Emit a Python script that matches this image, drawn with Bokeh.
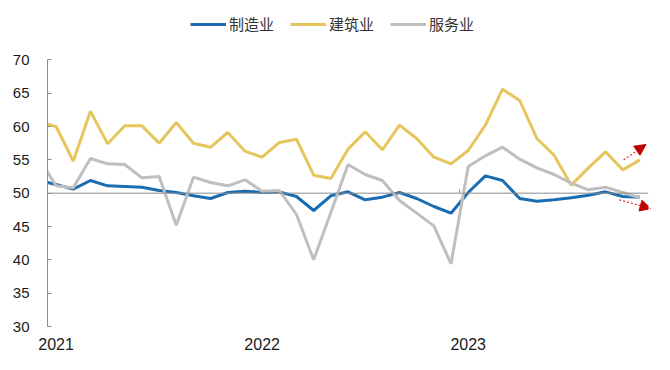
from bokeh.plotting import figure
from bokeh.models import Span, Legend, LegendItem, Arrow, NormalHead, FixedTicker, ColumnDataSource
from bokeh.embed import file_html
from bokeh.resources import INLINE

# ---------------- data ----------------
months = ["2020-12",
          "2021-01", "2021-02", "2021-03", "2021-04", "2021-05", "2021-06",
          "2021-07", "2021-08", "2021-09", "2021-10", "2021-11", "2021-12",
          "2022-01", "2022-02", "2022-03", "2022-04", "2022-05", "2022-06",
          "2022-07", "2022-08", "2022-09", "2022-10", "2022-11", "2022-12",
          "2023-01", "2023-02", "2023-03", "2023-04", "2023-05", "2023-06",
          "2023-07", "2023-08", "2023-09", "2023-10", "2023-11"]

manufacturing = [51.9,
                 51.3, 50.6, 51.9, 51.1, 51.0, 50.9, 50.4, 50.1, 49.6, 49.2, 50.1, 50.3,
                 50.1, 50.2, 49.5, 47.4, 49.6, 50.2, 49.0, 49.4, 50.1, 49.2, 48.0, 47.0,
                 50.1, 52.6, 51.9, 49.2, 48.8, 49.0, 49.3, 49.7, 50.2, 49.5, 49.4]

construction = [60.7,
                60.0, 54.8, 62.3, 57.4, 60.1, 60.1, 57.5, 60.6, 57.5, 56.9, 59.1, 56.3,
                55.4, 57.6, 58.1, 52.7, 52.2, 56.6, 59.2, 56.5, 60.2, 58.2, 55.4, 54.4,
                56.4, 60.2, 65.6, 63.9, 58.2, 55.7, 51.2, 53.8, 56.2, 53.5, 55.0]

services = [55.3,
            51.1, 50.8, 55.2, 54.4, 54.3, 52.3, 52.5, 45.2, 52.4, 51.6, 51.1, 52.0,
            50.3, 50.4, 46.8, 40.0, 47.1, 54.3, 52.8, 51.9, 48.9, 47.0, 45.1, 39.4,
            54.0, 55.6, 56.9, 55.1, 53.8, 52.8, 51.5, 50.5, 50.9, 50.1, 49.3]

series_names = ["制造业", "建筑业", "服务业"]
year_labels = ["2021", "2022", "2023"]
y_ticks = [30, 35, 40, 45, 50, 55, 60, 65, 70]
threshold = 50

# ---------------- build ----------------
idx = list(range(len(months)))
src = ColumnDataSource(dict(x=idx, m=manufacturing, c=construction, s=services))

year_idx = [i for i, mth in enumerate(months) if mth.endswith("-01")]

# frame extends to the top so the legend can live inside it;
# the y axis line is bounded to the tick range
p = figure(width=662, height=362, x_range=(0.5, len(months) - 0.5), y_range=(30, 78.3),
           output_backend="svg", toolbar_location=None,
           min_border_left=47, min_border_right=14, min_border_top=4, min_border_bottom=36)
p.outline_line_color = None
p.xgrid.grid_line_color = None
p.ygrid.grid_line_color = None
p.background_fill_color = "white"
p.border_fill_color = "white"

# threshold line (acts as horizontal axis)
p.add_layout(Span(location=threshold, dimension="width", line_color="#8c8c8c", line_width=1))
# small tick marks at year boundaries on the 50 line
bx = [i - 0.5 for i in year_idx[1:]]
p.segment(x0=bx, y0=[threshold] * len(bx), x1=bx, y1=[threshold + 0.55] * len(bx),
          line_color="#8c8c8c", line_width=1)

colors = ["#1B6DB1", "#E6C65C", "#BFBFBF"]
r_m = p.line("x", "m", source=src, line_color=colors[0], line_width=3)
r_c = p.line("x", "c", source=src, line_color=colors[1], line_width=3)
r_s = p.line("x", "s", source=src, line_color=colors[2], line_width=3)

# axes
p.yaxis.ticker = FixedTicker(ticks=y_ticks)
p.yaxis.bounds = (min(y_ticks), max(y_ticks))
p.yaxis.axis_line_color = "#8c8c8c"
p.yaxis.major_tick_line_color = "#8c8c8c"
p.yaxis.major_tick_in = 4
p.yaxis.major_tick_out = 0
p.yaxis.minor_tick_line_color = None
p.yaxis.major_label_standoff = 18
p.yaxis.major_label_text_font = "Liberation Sans"
p.yaxis.major_label_text_font_size = "15px"
p.yaxis.major_label_text_color = "#1a1a1a"

p.xaxis.ticker = FixedTicker(ticks=year_idx)
p.xaxis.major_label_overrides = {i: lab for i, lab in zip(year_idx, year_labels)}
p.xaxis.axis_line_color = None
p.xaxis.major_tick_line_color = None
p.xaxis.major_tick_out = 0
p.xaxis.major_tick_in = 0
p.xaxis.minor_tick_line_color = None
p.xaxis.major_label_standoff = 11
p.xaxis.major_label_text_font = "Liberation Sans"
p.xaxis.major_label_text_font_size = "16px"
p.xaxis.major_label_text_color = "#1a1a1a"

# trend arrows anchored at last points
last = len(months) - 1
head_up = NormalHead(size=11, fill_color="#C00000", line_color="#C00000")
p.add_layout(Arrow(end=head_up, x_start=last - 0.95, y_start=construction[-1],
                   x_end=last + 0.35, y_end=construction[-1] + 2.3,
                   line_color="#E03030", line_width=1.2, line_dash="2 2"))
head_dn = NormalHead(size=11, fill_color="#C00000", line_color="#C00000")
p.add_layout(Arrow(end=head_dn, x_start=last - 1.2, y_start=manufacturing[-1] - 0.4,
                   x_end=last + 0.65, y_end=manufacturing[-1] - 1.7,
                   line_color="#E03030", line_width=1.2, line_dash="2 2"))

legend = Legend(items=[LegendItem(label=series_names[0], renderers=[r_m]),
                       LegendItem(label=series_names[1], renderers=[r_c]),
                       LegendItem(label=series_names[2], renderers=[r_s])],
                orientation="horizontal", location=(143, 292),
                padding=0, margin=0, spacing=16, label_standoff=3,
                glyph_width=36, glyph_height=20,
                label_text_font="Noto Sans CJK SC", label_text_font_size="15px",
                label_text_color="#333333",
                border_line_color=None, background_fill_alpha=0)
p.add_layout(legend, "center")

open("out.html", "w").write(file_html(p, INLINE))
